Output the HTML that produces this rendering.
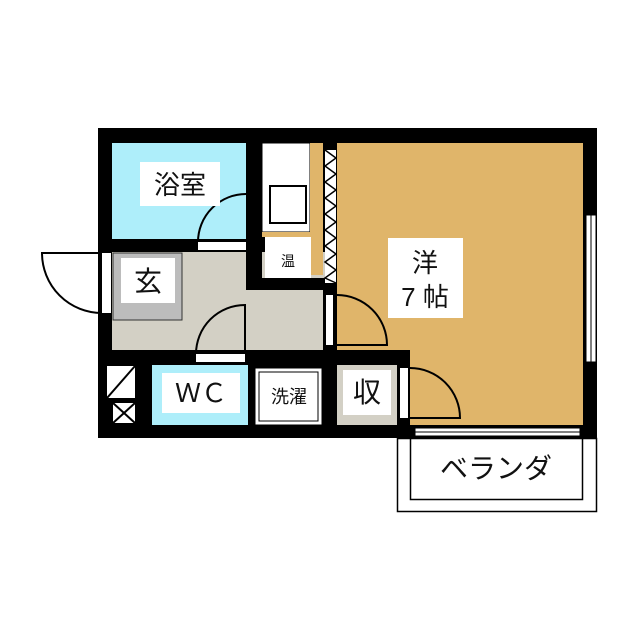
<!DOCTYPE html>
<html><head><meta charset="utf-8"><style>body{margin:0;background:#fff}svg{display:block}text{font-family:"Liberation Sans","Noto Sans CJK JP",sans-serif;fill:#111}</style></head><body>
<svg width="640" height="640" viewBox="0 0 640 640">
<rect width="640" height="640" fill="#fff"/>
<rect x="98" y="128" width="499" height="310" fill="#000"/>
<rect x="112" y="143" width="134" height="96" fill="#aeeefa"/>
<rect x="112" y="252" width="213" height="98" fill="#d3d0c5"/>
<rect x="246" y="239" width="16" height="51" fill="#000"/>
<rect x="248" y="278" width="77" height="12" fill="#000"/>
<rect x="262" y="143" width="48" height="89" fill="#fff" stroke="#000" stroke-width="1"/>
<rect x="262" y="232" width="48" height="5" fill="#e0b56a"/>
<rect x="270" y="186" width="36" height="37" fill="#fff" stroke="#000" stroke-width="2"/>
<rect x="310" y="143" width="13" height="132" fill="#e0b56a"/>
<rect x="265" y="237" width="46" height="41" fill="#fff"/>
<rect x="325" y="150" width="11" height="133" fill="#fff"/>
<polyline points="325,150 336,158 325,166 336,174 325,182 336,190 325,198 336,206 325,214 336,222 325,230 336,238 325,246 336,254 325,262 336,270 325,278 336,283" fill="none" stroke="#000" stroke-width="1.5"/>
<rect x="337" y="143" width="246" height="207" fill="#e0b56a"/>
<rect x="410" y="350" width="173" height="75" fill="#e0b56a"/>
<rect x="113" y="253" width="69" height="67" fill="#bcbcbc" stroke="#333" stroke-width="1"/>
<rect x="152" y="365" width="96" height="60" fill="#aeeefa"/>
<rect x="255" y="368" width="67" height="57" fill="#fff" stroke="#000" stroke-width="1"/>
<rect x="259" y="372" width="59" height="49" fill="#fff" stroke="#000" stroke-width="1"/>
<rect x="337" y="365" width="60" height="60" fill="#d3d0c5"/>
<rect x="137" y="350" width="125" height="15" fill="#000"/>
<rect x="137" y="350" width="15" height="88" fill="#000"/>
<rect x="323" y="350" width="87" height="15" fill="#000"/>
<rect x="323" y="283" width="14" height="67" fill="#000"/>
<rect x="107" y="366" width="28" height="32" fill="#fff"/>
<line x1="107" y1="398" x2="135" y2="366" stroke="#000" stroke-width="2"/>
<rect x="113" y="403" width="22" height="20" fill="#fff"/>
<path d="M113 403L135 423M135 403L113 423" stroke="#000" stroke-width="2"/>
<rect x="198" y="242" width="48" height="8" fill="#fff"/>
<path d="M198 242A48 48 0 0 1 246 194" fill="none" stroke="#000" stroke-width="2"/>
<rect x="102" y="253" width="9" height="60" fill="#fff"/>
<path d="M102 313A60 60 0 0 1 42 253L102 253" fill="none" stroke="#000" stroke-width="2"/>
<rect x="196" y="354" width="49" height="8" fill="#fff"/>
<path d="M196 354A49 49 0 0 1 245 305L245 354" fill="none" stroke="#000" stroke-width="2"/>
<rect x="326" y="295" width="7" height="50" fill="#fff"/>
<path d="M337 295A50 50 0 0 1 387 345L337 345" fill="none" stroke="#000" stroke-width="2"/>
<rect x="400" y="368" width="8" height="50" fill="#fff"/>
<path d="M410 368A50 50 0 0 1 460 418L410 418" fill="none" stroke="#000" stroke-width="2"/>
<rect x="586" y="215" width="10" height="147" fill="#fff" stroke="#000" stroke-width="1"/>
<line x1="591" y1="215" x2="591" y2="362" stroke="#000" stroke-width="1"/>
<rect x="415" y="428" width="165" height="8" fill="#fff" stroke="#000" stroke-width="1"/>
<line x1="415" y1="432" x2="580" y2="432" stroke="#000" stroke-width="1"/>
<rect x="397.5" y="438.5" width="199" height="73" fill="#fff" stroke="#000" stroke-width="1.5"/>
<rect x="410.5" y="438.5" width="172" height="61" fill="#fff" stroke="#000" stroke-width="1.5"/>
<rect x="140" y="162" width="80" height="44" fill="#fff"/>
<text x="180" y="194" font-size="26" text-anchor="middle">浴室</text>
<text x="288" y="266" font-size="14" text-anchor="middle">温</text>
<rect x="121" y="258" width="54" height="45" fill="#fff"/>
<text x="148" y="291" font-size="28" text-anchor="middle">玄</text>
<rect x="162" y="373" width="78" height="40" fill="#fff"/>
<text x="201" y="402" font-size="26" text-anchor="middle">ＷＣ</text>
<text x="289" y="403" font-size="18" text-anchor="middle">洗濯</text>
<rect x="343" y="370" width="48" height="45" fill="#fff"/>
<text x="367" y="402" font-size="28" text-anchor="middle">収</text>
<rect x="388" y="238" width="75" height="80" fill="#fff"/>
<text x="425" y="272" font-size="26" text-anchor="middle">洋</text>
<text x="425" y="306" font-size="26" text-anchor="middle">7 帖</text>
<text x="496" y="478" font-size="28" text-anchor="middle">ベランダ</text>
</svg>
</body></html>
